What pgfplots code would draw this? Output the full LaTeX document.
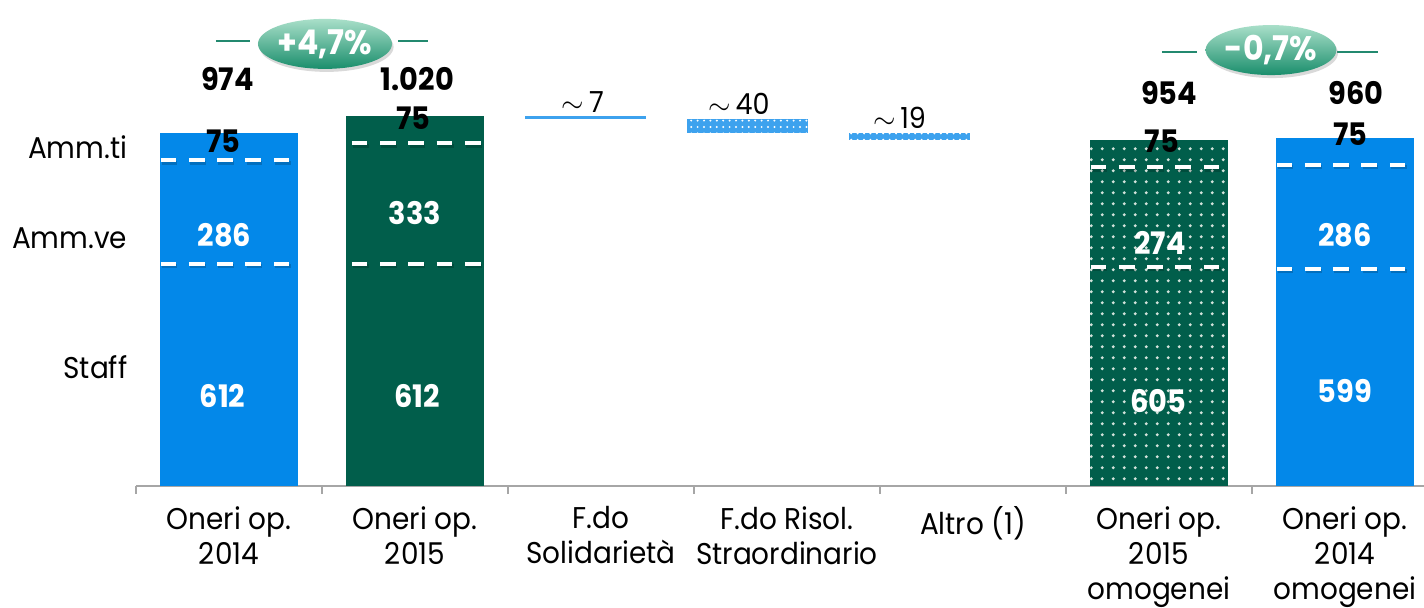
\documentclass[border=0pt]{standalone}
\usepackage{fontspec}
\setmainfont{Poppins}[FakeStretch=0.93]
\usepackage{pgfplots}
\pgfplotsset{compat=1.18}
\usetikzlibrary{patterns.meta,shapes.geometric,shadows}
\definecolor{cblue}{HTML}{0388E9}
\definecolor{cgreen}{HTML}{015E4B}
\definecolor{lblue}{HTML}{3DA2EE}
\definecolor{axgray}{HTML}{A6A6A6}
\definecolor{eltop}{HTML}{A9DFC9}
\definecolor{elbot}{HTML}{1A8E6C}
\definecolor{sideln}{HTML}{23896F}
\definecolor{dotc}{HTML}{D2E2DA}
\tikzset{
  sep/.style={white, line width=2pt, dash pattern=on 7.85pt off 6.3pt},
  sepsh/.style={black, opacity=0.18, line width=2pt, dash pattern=on 7.85pt off 6.3pt, xshift=0.6pt, yshift=-1.2pt},
  vlab/.style={font=\fontsize{15.5}{18}\selectfont\bfseries, text=black, inner sep=0pt},
  wlab/.style={font=\fontsize{15.5}{18}\selectfont\bfseries, text=white, inner sep=0pt},
  tlab/.style={font=\fontsize{14.5}{17}\selectfont, text=black, inner sep=0pt},
  llab/.style={font=\fontsize{15}{17}\selectfont, text=black, inner sep=0pt, anchor=east},
  pct/.style={ellipse, minimum width=58.5pt, minimum height=25pt, inner sep=0pt,
    top color=eltop, bottom color=elbot, draw=none,
    drop shadow={shadow xshift=0.8pt, shadow yshift=-1.5pt, opacity=0.3},
    font=\fontsize{17}{20}\selectfont\bfseries, text=white},
  sl/.style={sideln, line width=1pt},
}
\pgfplotsset{
  frame/.style={
    at={(0,0)}, anchor=south west,
    scale only axis, width=651pt, height=243pt,
    xmin=-0.5, xmax=6.5, ymin=0, ymax=1340,
    clip=false, enlargelimits=false,
  }
}
\begin{document}
\begin{tikzpicture}
\begin{axis}[
  frame,
  ybar stacked,
  axis x line=bottom, axis y line=none,
  x axis line style={-, draw=axgray, line width=0.75pt},
  xtick={0,1,2,3,4,5,6},
  xticklabels={{Oneri op.\\2014},{Oneri op.\\2015},{F.do\\Solidarietà},{F.do Risol.\\Straordinario},{Altro (1)},{Oneri op.\\2015\\omogenei},{Oneri op.\\2014\\omogenei}},
  xticklabel style={align=center, font=\fontsize{15}{17.5}\selectfont, text=black, yshift=-4.5pt},
  xtick style={draw=none},
  extra x ticks={-0.5,0.5,1.5,2.5,3.5,4.5,5.5,6.5},
  extra x tick labels={},
  extra x tick style={xtick style={draw=axgray, line width=0.75pt}, major tick length=4pt, tick align=outside},
  ytick=\empty,
]
% invisible base for the floating (waterfall) bars
\addplot[draw=none, fill=none, bar width=0.65] coordinates {(0,0)(1,0)(1.917,1013)(2.788,973)(3.659,954)(5,0)(6,0)};
% Oneri op. 2014
\addplot[draw=none, fill=cblue, bar width=0.747] coordinates {(0,974)(1,0)(1.917,0)(2.788,0)(3.659,0)(5,0)(6,0)};
% Oneri op. 2015
\addplot[draw=none, fill=cgreen, bar width=0.747] coordinates {(0,0)(1,1020)(1.917,0)(2.788,0)(3.659,0)(5,0)(6,0)};
% F.do Solidarieta
\addplot[draw=none, fill=lblue, bar width=0.65, postaction={pattern={Dots[distance=3.2pt, radius=0.55pt]}, pattern color=white}] coordinates {(0,0)(1,0)(1.917,7)(2.788,0)(3.659,0)(5,0)(6,0)};
% F.do Risol. Straordinario
\addplot[draw=none, fill=lblue, bar width=0.65, postaction={pattern={Dots[distance=3.2pt, radius=0.55pt]}, pattern color=white}] coordinates {(0,0)(1,0)(1.917,0)(2.788,40)(3.659,0)(5,0)(6,0)};
% Altro
\addplot[draw=none, fill=lblue, bar width=0.65, postaction={pattern={Dots[distance=3.2pt, radius=0.55pt]}, pattern color=white}] coordinates {(0,0)(1,0)(1.917,0)(2.788,0)(3.659,19)(5,0)(6,0)};
% Oneri op. 2015 omogenei
\addplot[draw=none, fill=cgreen, bar width=0.747, postaction={pattern={Dots[distance=5.35pt, radius=0.85pt]}, pattern color=dotc}] coordinates {(0,0)(1,0)(1.917,0)(2.788,0)(3.659,0)(5,954)(6,0)};
% Oneri op. 2014 omogenei
\addplot[draw=none, fill=cblue, bar width=0.747] coordinates {(0,0)(1,0)(1.917,0)(2.788,0)(3.659,0)(5,0)(6,960)};
\end{axis}
% same frame again, hidden, for everything drawn over the bars
\begin{axis}[frame, hide axis]
% segment separators (Staff | Amm.ve | Amm.ti)
\draw[sepsh] (axis cs:-0.368,612) -- (axis cs:0.374,612);
\draw[sep]   (axis cs:-0.368,612) -- (axis cs:0.374,612);
\draw[sepsh] (axis cs:-0.368,898) -- (axis cs:0.374,898);
\draw[sep]   (axis cs:-0.368,898) -- (axis cs:0.374,898);
\draw[sepsh] (axis cs:0.66,612) -- (axis cs:1.374,612);
\draw[sep]   (axis cs:0.66,612) -- (axis cs:1.374,612);
\draw[sepsh] (axis cs:0.66,945) -- (axis cs:1.374,945);
\draw[sep]   (axis cs:0.66,945) -- (axis cs:1.374,945);
\draw[sepsh] (axis cs:4.632,605) -- (axis cs:5.374,605);
\draw[sep]   (axis cs:4.632,605) -- (axis cs:5.374,605);
\draw[sepsh] (axis cs:4.632,879) -- (axis cs:5.374,879);
\draw[sep]   (axis cs:4.632,879) -- (axis cs:5.374,879);
\draw[sepsh] (axis cs:5.632,599) -- (axis cs:6.374,599);
\draw[sep]   (axis cs:5.632,599) -- (axis cs:6.374,599);
\draw[sepsh] (axis cs:5.632,885) -- (axis cs:6.374,885);
\draw[sep]   (axis cs:5.632,885) -- (axis cs:6.374,885);
% totals
\node[vlab] at (axis cs:-0.008,1122) {974};
\node[vlab] at (axis cs:1.013,1121) {1.020};
\node[vlab] at (axis cs:5.054,1084) {954};
\node[vlab] at (axis cs:6.059,1084) {960};
% Amm.ti values
\node[vlab] at (axis cs:-0.030,951) {75};
\node[vlab] at (axis cs:0.992,1015) {75};
\node[vlab] at (axis cs:5.016,951) {75};
\node[vlab] at (axis cs:6.030,969) {75};
% inner values
\node[wlab] at (axis cs:-0.024,692) {286};
\node[wlab] at (axis cs:-0.035,248) {612};
\node[wlab] at (axis cs:1.0,753) {333};
\node[wlab] at (axis cs:1.01,248) {612};
\node[wlab] at (axis cs:5.005,670) {274};
\node[wlab] at (axis cs:4.997,233) {605};
\node[wlab] at (axis cs:6.0,692) {286};
\node[wlab] at (axis cs:6.0,262) {599};
% floating bar labels
\node[tlab] at (axis cs:1.903,1060) {$\sim$\,7};
\node[tlab] at (axis cs:2.742,1055) {$\sim$\,40};
\node[tlab] at (axis cs:3.605,1016) {$\sim$\,19};
% left labels
\node[llab] at (axis cs:-0.545,935) {Amm.ti};
\node[llab] at (axis cs:-0.545,684) {Amm.ve};
\node[llab] at (axis cs:-0.545,328) {Staff};
% variation bubbles
\draw[sl] (axis cs:-0.070,1227) -- (axis cs:0.113,1227);
\draw[sl] (axis cs:0.909,1227) -- (axis cs:1.070,1227);
\node[pct] at (axis cs:0.516,1219) {+4,7\%};
\draw[sl] (axis cs:5.016,1197) -- (axis cs:5.204,1197);
\draw[sl] (axis cs:5.957,1197) -- (axis cs:6.177,1197);
\node[pct] at (axis cs:5.602,1202) {-0,7\%};
\end{axis}
\pgfresetboundingbox
\path[use as bounding box] (-68pt,-60.5pt) rectangle (644pt,243pt);
\end{tikzpicture}
\end{document}
